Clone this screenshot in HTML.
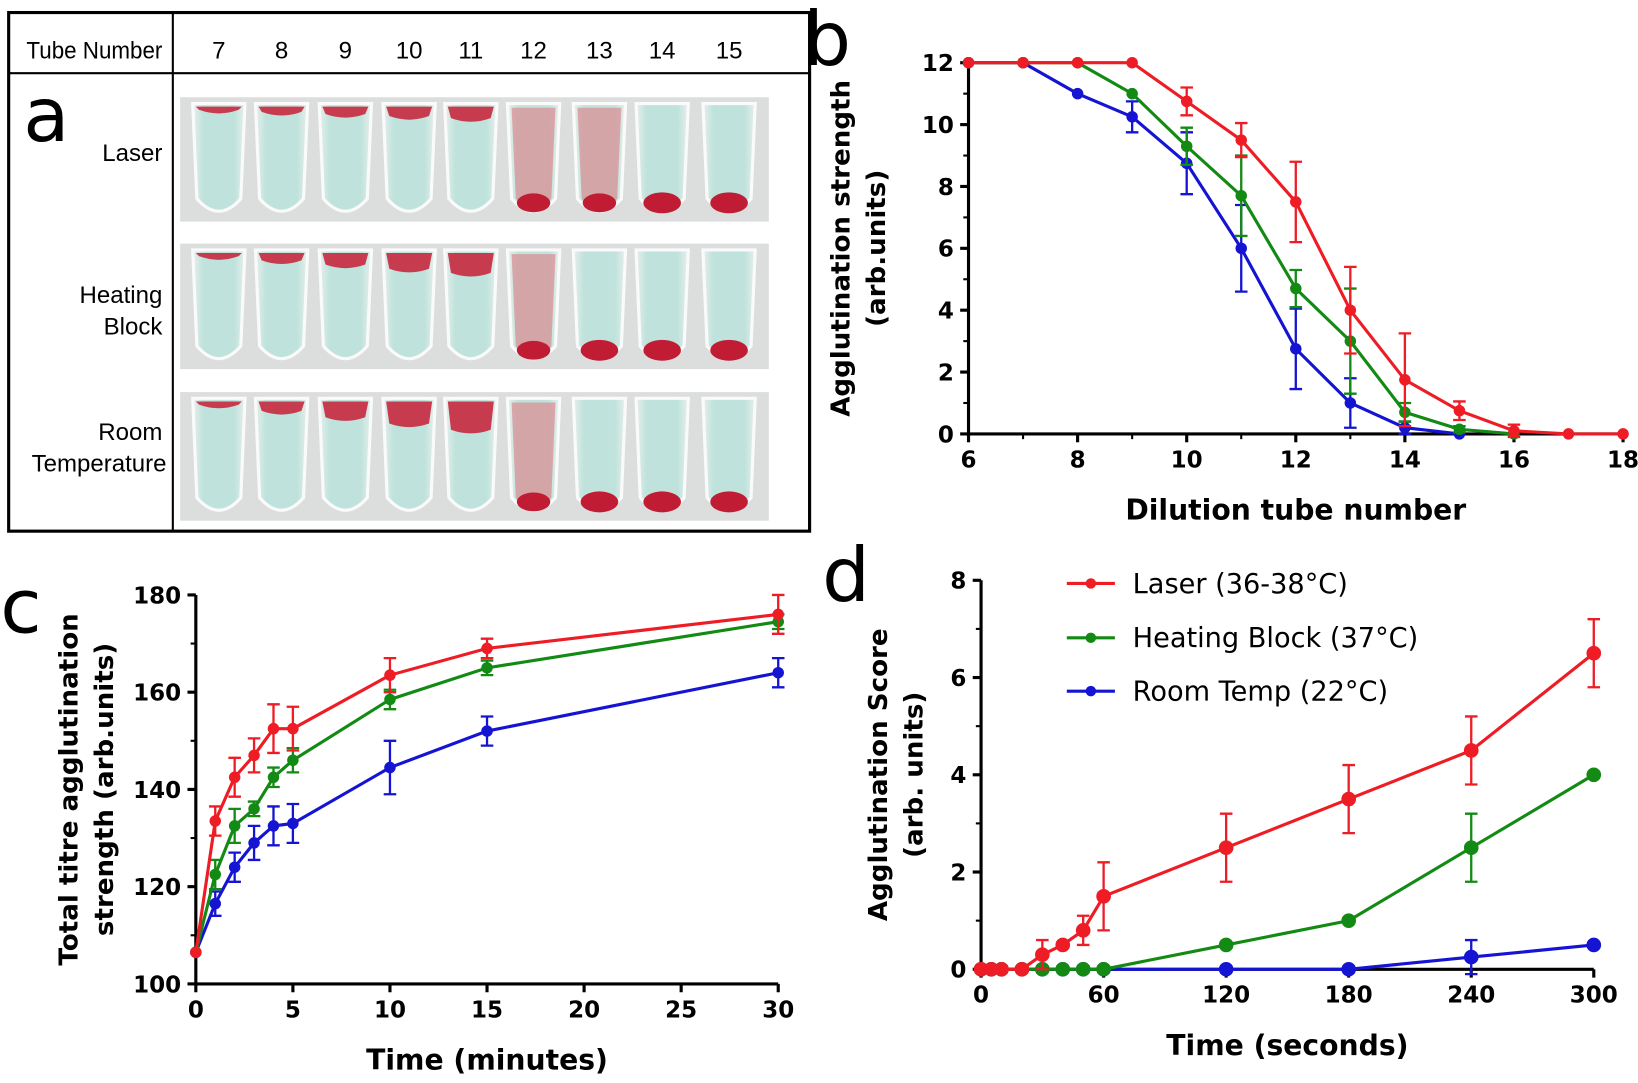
<!DOCTYPE html>
<html><head><meta charset="utf-8"><style>
body{margin:0;background:#fff;width:1638px;height:1078px;overflow:hidden}
svg text{font-family:"DejaVu Sans","Liberation Sans",sans-serif}
svg text.n{font-family:"Liberation Sans",sans-serif}
</style></head><body>
<svg id="s" width="1638" height="1078" viewBox="0 0 1566 1031" xmlns="http://www.w3.org/2000/svg">
<defs>
<linearGradient id="tg" x1="0" x2="1"><stop offset="0" stop-color="#e9eeec"/><stop offset="0.2" stop-color="#bfe3dc"/><stop offset="0.8" stop-color="#bfe3dc"/><stop offset="1" stop-color="#e9eeec"/></linearGradient>
</defs>
<rect x="8" y="12" width="766" height="496" fill="none" stroke="#000" stroke-width="3"/>
<line x1="8" y1="70" x2="774" y2="70" stroke="#000" stroke-width="2"/>
<line x1="165" y1="12" x2="165" y2="508" stroke="#000" stroke-width="2"/>
<text class="n" x="90" y="56" font-size="23" text-anchor="middle" textLength="130" lengthAdjust="spacingAndGlyphs">Tube Number</text>
<text x="22" y="135" font-size="72">a</text>
<text class="n" x="155" y="154" font-size="23" text-anchor="end">Laser</text>
<text class="n" x="155" y="290" font-size="23" text-anchor="end">Heating</text>
<text class="n" x="155" y="320" font-size="23" text-anchor="end">Block</text>
<text class="n" x="155" y="421" font-size="23" text-anchor="end">Room</text>
<text class="n" x="159" y="451" font-size="23" text-anchor="end">Temperature</text>
<text x="768" y="62" font-size="72">b</text>
<text x="0" y="605" font-size="72">c</text>
<text x="786" y="575" font-size="72">d</text>
<g id="g"></g>
</svg>
<script>
const S=document.getElementById('g');let h='';
const tx=[209,269,330,391,450,510,573,633,697];
tx.forEach((x,i)=>h+=`<text class="n" x="${x}" y="56" font-size="23" text-anchor="middle">${i+7}</text>`);
const rows=[[93,212],[233,353],[375,498]];
const types=[['t','t','t','t','t','d','d','b','b'],['t','t','t','t','t','d','b','b','b'],['t','t','t','t','t','d','b','b','b']];
rows.forEach((r,ri)=>{const y0=r[0],y1=r[1];h+=`<rect x="172" y="${y0}" width="563" height="${y1-y0}" fill="#dcdedd"/>`;
tx.forEach((x,i)=>{const w=50,l=x-25,t=y0+6,b=y1-4;
h+=`<path d="M${l} ${t} L${l+w} ${t} L${l+w-4} ${b-18} Q${x} ${b+6} ${l+4} ${b-18} Z" fill="url(#tg)" stroke="#fafafa" stroke-width="3"/>`;
const ty=types[ri][i];
if(ty=='t'){const hh=3+(i)*4*(ri+1)/2;h+=`<path d="M${l+3} ${t+3} L${l+w-3} ${t+3} L${l+w-6} ${t+3+hh} Q${x} ${t+hh+10} ${l+6} ${t+3+hh} Z" fill="#c8283e" opacity="0.9"/>`;}
else if(ty=='d'){h+=`<path d="M${l+4} ${t+4} L${l+w-4} ${t+4} L${l+w-8} ${b-18} Q${x} ${b+2} ${l+8} ${b-18} Z" fill="#dc8a90" opacity="0.7"/><ellipse cx="${x}" cy="${b-14}" rx="16" ry="9" fill="#c01c34"/>`;}
else{h+=`<ellipse cx="${x}" cy="${b-14}" rx="18" ry="10" fill="#c01c34"/>`;}
});});
function chart(o){
 const X=v=>o.x0+(v-o.xa)*(o.x1-o.x0)/(o.xb-o.xa), Y=v=>o.y0+(v-o.ya)*(o.y1-o.y0)/(o.yb-o.ya);
 h+=`<line x1="${o.x0}" y1="${o.y0}" x2="${o.x0}" y2="${o.y1}" stroke="#000" stroke-width="3"/><line x1="${o.x0}" y1="${o.y0}" x2="${o.x1}" y2="${o.y0}" stroke="#000" stroke-width="3"/>`;
 o.xt.forEach(v=>{h+=`<line x1="${X(v)}" y1="${o.y0}" x2="${X(v)}" y2="${o.y0+8}" stroke="#000" stroke-width="3"/><text x="${X(v)}" y="${o.y0+32}" font-size="22" font-weight="bold" text-anchor="middle">${v}</text>`});
 (o.xm||[]).forEach(v=>h+=`<line x1="${X(v)}" y1="${o.y0}" x2="${X(v)}" y2="${o.y0+5}" stroke="#000" stroke-width="2"/>`);
 o.yt.forEach(v=>{h+=`<line x1="${o.x0-8}" y1="${Y(v)}" x2="${o.x0}" y2="${Y(v)}" stroke="#000" stroke-width="3"/><text x="${o.x0-14}" y="${Y(v)+8}" font-size="22" font-weight="bold" text-anchor="end">${v}</text>`});
 (o.ym||[]).forEach(v=>h+=`<line x1="${o.x0-5}" y1="${Y(v)}" x2="${o.x0}" y2="${Y(v)}" stroke="#000" stroke-width="2"/>`);
 h+=`<text x="${(o.x0+o.x1)/2}" y="${o.y0+82}" font-size="27" font-weight="bold" text-anchor="middle">${o.xl}</text>`;
 o.yl.forEach((t,i)=>h+=`<text transform="translate(${o.ylx+i*34},${(o.y0+o.y1)/2}) rotate(-90)" font-size="25" font-weight="bold" text-anchor="middle">${t}</text>`);
 o.s.forEach(s=>{const pts=s.d.map(p=>X(p[0])+','+Y(p[1])).join(' ');
  s.d.forEach(p=>{if(p[2]){const a=Y(p[1]+p[2]),b=Y(p[1]-p[2]),x=X(p[0]);h+=`<path d="M${x} ${a}V${b}M${x-6} ${a}H${x+6}M${x-6} ${b}H${x+6}" stroke="${s.c}" stroke-width="2.2"/>`;}});
  h+=`<polyline points="${pts}" fill="none" stroke="${s.c}" stroke-width="3"/>`;
  s.d.forEach(p=>h+=`<circle cx="${X(p[0])}" cy="${Y(p[1])}" r="${o.r}" fill="${s.c}"/>`);});
}
const R='#ee1c25',G='#138a13',B='#1414d2';
chart({x0:926,x1:1552,xa:6,xb:18,y0:415,y1:60,ya:0,yb:12,xt:[6,8,10,12,14,16,18],xm:[7,9,11,13,15,17],yt:[0,2,4,6,8,10,12],ym:[1,3,5,7,9,11],r:5.5,
xl:'Dilution tube number',yl:['Agglutination strength','(arb.units)'],ylx:812,
s:[{c:B,d:[[6,12],[7,12],[8,11],[9,10.25,.5],[10,8.75,1],[11,6,1.4],[12,2.75,1.3],[13,1,.8],[14,.2,.2],[15,0]]},
{c:G,d:[[6,12],[7,12],[8,12],[9,11],[10,9.3,.6],[11,7.7,1.3],[12,4.7,.6],[13,3,1.7],[14,.7,.3],[15,.15,.1],[16,0]]},
{c:R,d:[[6,12],[7,12],[8,12],[9,12],[10,10.75,.45],[11,9.5,.55],[12,7.5,1.3],[13,4,1.4],[14,1.75,1.5],[15,.75,.3],[16,.1,.2],[17,0],[18,0]]}]});
chart({x0:187,x1:744,xa:0,xb:30,y0:941,y1:569,ya:100,yb:180,xt:[0,5,10,15,20,25,30],yt:[100,120,140,160,180],ym:[110,130,150,170],r:5.5,
xl:'Time (minutes)',yl:['Total titre agglutination','strength (arb.units)'],ylx:74,
s:[{c:B,d:[[0,106.5],[1,116.5,2.5],[2,124,3],[3,129,3.5],[4,132.5,4],[5,133,4],[10,144.5,5.5],[15,152,3],[30,164,3]]},
{c:G,d:[[0,106.5],[1,122.5,3],[2,132.5,3.5],[3,136,1.5],[4,142.5,2],[5,146,2.5],[10,158.5,2],[15,165,1.5],[30,174.5,1.5]]},
{c:R,d:[[0,106.5],[1,133.5,3],[2,142.5,4],[3,147,3.5],[4,152.5,5],[5,152.5,4.5],[10,163.5,3.5],[15,169,2],[30,176,4]]}]});
chart({x0:938,x1:1524,xa:0,xb:300,y0:927,y1:555,ya:0,yb:8,xt:[0,60,120,180,240,300],yt:[0,2,4,6,8],ym:[1,3,5,7],r:7,
xl:'Time (seconds)',yl:['Agglutination Score','(arb. units)'],ylx:848,
s:[{c:B,d:[[0,0],[5,0],[10,0],[20,0],[30,0],[40,0],[50,0],[60,0],[120,0],[180,0],[240,.25,.35],[300,.5]]},
{c:G,d:[[0,0],[5,0],[10,0],[20,0],[30,0],[40,0],[50,0],[60,0],[120,.5],[180,1],[240,2.5,.7],[300,4]]},
{c:R,d:[[0,0],[5,0],[10,0],[20,0],[30,.3,.3],[40,.5],[50,.8,.3],[60,1.5,.7],[120,2.5,.7],[180,3.5,.7],[240,4.5,.7],[300,6.5,.7]]}]});
[[R,'Laser (36-38°C)',558],[G,'Heating Block (37°C)',610],[B,'Room Temp (22°C)',661]].forEach(l=>{
h+=`<line x1="1020" y1="${l[2]}" x2="1066" y2="${l[2]}" stroke="${l[0]}" stroke-width="3"/><circle cx="1043" cy="${l[2]}" r="5" fill="${l[0]}"/><text x="1083" y="${l[2]+9}" font-size="26">${l[1]}</text>`;});
S.innerHTML=h;
</script>
</body></html>
